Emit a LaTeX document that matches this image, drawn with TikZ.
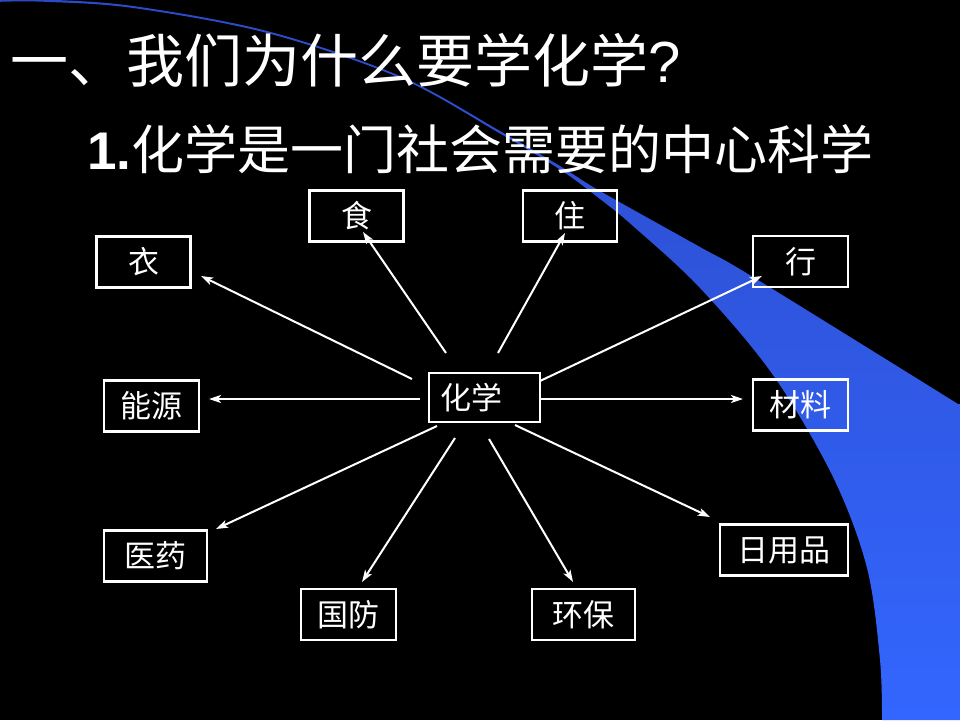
\documentclass[tikz,border=0pt]{standalone}
\usepackage{fontspec}
\setmainfont{Liberation Sans}
\newfontfamily\cjk{Noto Sans CJK SC}
\usetikzlibrary{arrows.meta}
\definecolor{bandtop}{RGB}{44,74,200}
\definecolor{bandmid}{RGB}{42,76,200}
\definecolor{bandbot}{RGB}{51,102,255}
\begin{document}
\begin{tikzpicture}[x=1pt,y=-1pt,
  box/.style={draw=white, line width=2.6pt, text=white, font=\cjk\fontsize{31}{31}\selectfont, inner sep=0pt, minimum height=51pt},
  arr/.style={draw=white, line width=2pt, -{Stealth[length=12pt,width=8pt,inset=3pt]}},
  headline/.style={anchor=west, inner sep=0pt, text=white}]
\fill[black] (0,0) rectangle (960,720);
\useasboundingbox (0,0) rectangle (960,720);
% blue crescent band
\shade[top color=bandtop, middle color=bandmid, bottom color=bandbot]
  plot[smooth, tension=0.55] coordinates {(0,-1) (45,-0.5) (133,6) (267,31) (400,76) (500,131) (560,166) (600,191) (700,247) (753,277) (958,404)}
  -- (960,404) -- (960,720) -- (882,720)
  -- plot[smooth, tension=0.55] coordinates {(882,720) (880,660) (867,568) (833,477) (773,375) (700,288) (633,226) (600,199) (560,169.5) (500,133.5) (400,78) (267,33) (133,8) (45,1.8) (0,1.8)}
  -- cycle;
% titles
\node[headline, font=\fontsize{58}{58}\selectfont] (title) at (10,60) {{\cjk 一、我们为什么要学化学}?};
\node[headline, font=\fontsize{53}{53}\selectfont] (sub) at (87,149) {{\bfseries 1.}{\cjk 化学是一门社会需要的中心科学}};
% boxes
\node[box, minimum width=94pt] (shi) at (356.5,216) {食};
\node[box, minimum width=94pt] (zhu) at (570,216) {住};
\node[box, minimum width=94pt] (yi) at (143.5,262) {衣};
\node[box, minimum width=95pt] (xing) at (800.5,261.5) {行};
\node[box, line width=1.5pt, minimum width=111pt, minimum height=49pt] (chem) at (484.5,397.5) {\makebox[89pt][l]{化学}};
\node[box, minimum width=95pt] (neng) at (151.5,406) {能源};
\node[box, minimum width=95pt] (cai) at (800.5,405) {材料};
\node[box, minimum width=103pt] (yiyao) at (155.5,556) {医药};
\node[box, minimum width=128pt] (ri) at (784,550) {日用品};
\node[box, minimum width=95pt] (guo) at (348.5,614.5) {国防};
\node[box, minimum width=103pt] (huan) at (583.5,614.5) {环保};
% arrow end points
\coordinate (s-yi) at (412,379);   \coordinate (t-yi) at (201,276);
\coordinate (s-shi) at (446,353);  \coordinate (t-shi) at (363,232);
\coordinate (s-zhu) at (498,353);  \coordinate (t-zhu) at (565,233);
\coordinate (s-xing) at (540,381); \coordinate (t-xing) at (762,276);
\coordinate (s-neng) at (420,399); \coordinate (t-neng) at (209,399);
\coordinate (s-cai) at (540,399);  \coordinate (t-cai) at (743,399);
\coordinate (s-yiyao) at (437,426);\coordinate (t-yiyao) at (216,529);
\coordinate (s-guo) at (455,438);  \coordinate (t-guo) at (362,582);
\coordinate (s-huan) at (489,439); \coordinate (t-huan) at (573,582);
\coordinate (s-ri) at (515,425);   \coordinate (t-ri) at (710,517);
\foreach \n in {yi,shi,zhu,xing,neng,cai,yiyao,guo,huan,ri}
  \draw[arr] (s-\n) -- (t-\n);
\end{tikzpicture}
\end{document}
